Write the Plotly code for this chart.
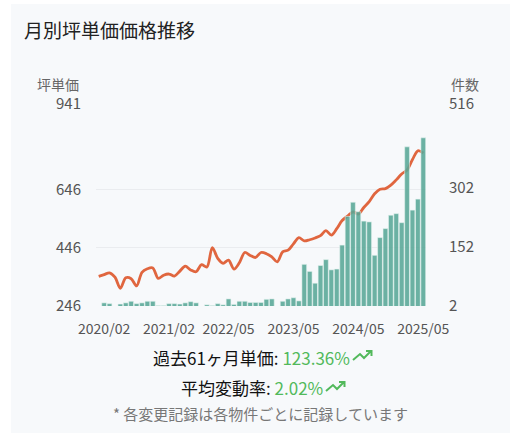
import plotly.graph_objects as go

# month categories (a few months in 2021 have no records)
months = (
    [f"2020/{m:02d}" for m in range(1, 13)]
    + ["2021/01", "2021/02", "2021/03", "2021/04", "2021/05", "2021/06", "2021/07",
       "2021/09", "2021/11", "2022/02", "2022/03", "2022/04", "2022/05"]
    + [f"2022/{m:02d}" for m in range(6, 13)]
    + [f"2023/{m:02d}" for m in range(1, 13)]
    + [f"2024/{m:02d}" for m in range(1, 13)]
    + [f"2025/{m:02d}" for m in range(1, 6)]
)
tick_months = ["2020/02", "2021/02", "2022/05", "2023/05", "2024/05", "2025/05"]

# 坪単価 (left axis)
unit_price = [
    348, 354, 360, 345, 307, 343, 340, 315, 362, 374,
    377, 341, 352, 356, 349, 366, 383, 370, 364, 388,
    380, 447, 410, 393, 404, 373, 395, 430, 420, 413,
    430, 426, 415, 398, 432, 438, 460, 481, 470, 474,
    480, 488, 505, 490, 512, 540, 555, 570, 562, 585,
    605, 632, 648, 650, 662, 680, 700, 714, 750, 780,
    772, 783,
]
# 件数 (right axis)
counts = [
    0, 10, 8, 0, 7, 10, 14, 8, 10, 14,
    14, 3, 3, 8, 8, 7, 10, 13, 10, 0,
    5, 3, 8, 5, 20, 6, 14, 14, 11, 11,
    11, 19, 20, 0, 14, 20, 23, 15, 108, 90,
    60, 105, 120, 94, 96, 157, 230, 266, 242, 218,
    216, 131, 176, 199, 233, 237, 214, 407, 246, 274,
    430, 269,
]
price_ticks = [246, 446, 646, 941]
count_ticks = [2, 152, 302, 516]

FONT = "Noto Sans CJK JP"
W, H = 515, 442
L, R, T, B = 96, 89, 104, 136
pw, ph = W - L - R, H - T - B


def px(x):
    return (x - L) / pw


def py(y):
    return (H - B - y) / ph


fig = go.Figure()

fig.add_trace(go.Scatter(
    x=months, y=unit_price, mode="lines", yaxis="y",
    line=dict(color="#e0663f", width=2.8, shape="spline", smoothing=0.9),
    hoverinfo="x+y", showlegend=False,
))
fig.add_trace(go.Bar(
    x=months, y=counts, yaxis="y2",
    marker=dict(color="rgba(88,166,150,0.88)",
                line=dict(color="rgba(230,245,240,0.7)", width=0.8)),
    showlegend=False,
))

# card background
shapes = [dict(type="rect", xref="paper", yref="paper", layer="below",
               x0=px(11), x1=px(510), y0=py(433), y1=py(4),
               fillcolor="#f7f9fb", line=dict(width=0))]

# trending-up icons
def trend_icon(x, y, color="#52b95b"):
    pts = [(x, y + 9), (x + 7, y + 3), (x + 11, y + 7), (x + 18, y)]
    path = "M " + " L ".join(f"{px(a)},{py(b)}" for a, b in pts)
    path += f" M {px(x + 13)},{py(y)} L {px(x + 18.5)},{py(y)} L {px(x + 18.5)},{py(y + 5)}"
    return dict(type="path", xref="paper", yref="paper", path=path,
                line=dict(color=color, width=2))

shapes.append(trend_icon(353, 351))
shapes.append(trend_icon(326, 382))

green = "#52b95b"
annotations = [
    dict(text="月別坪単価価格推移", x=px(22), y=py(30), xanchor="left", yanchor="middle",
         font=dict(size=19, color="#222222")),
    dict(text="坪単価", x=px(81), y=py(84), xanchor="right", yanchor="middle",
         font=dict(size=14, color="#666666")),
    dict(text="件数", x=px(449), y=py(84), xanchor="left", yanchor="middle",
         font=dict(size=14, color="#666666")),
    dict(text=f"過去61ヶ月単価: <span style='color:{green}'>123.36%</span>",
         x=px(352), y=py(357), xanchor="right", yanchor="middle",
         font=dict(size=17, color="#111111")),
    dict(text=f"平均変動率: <span style='color:{green}'>2.02%</span>",
         x=px(325), y=py(387), xanchor="right", yanchor="middle",
         font=dict(size=17, color="#111111")),
    dict(text="* 各変更記録は各物件ごとに記録しています", x=px(260.5), y=py(413),
         xanchor="center", yanchor="middle", font=dict(size=15, color="#777777")),
]
for a in annotations:
    a.update(xref="paper", yref="paper", showarrow=False)

fig.update_layout(
    width=W, height=H,
    margin=dict(l=L, r=R, t=T, b=B),
    paper_bgcolor="white", plot_bgcolor="rgba(0,0,0,0)",
    font=dict(family=FONT, color="#555555"),
    bargap=0.12,
    xaxis=dict(type="category", categoryorder="array", categoryarray=months,
               range=[-0.5, len(months) - 0.5],
               tickmode="array", tickvals=tick_months, ticktext=tick_months,
               showgrid=False, zeroline=False, showline=False, ticks="",
               tickfont=dict(size=14, color="#555555"), ticklabelstandoff=13),
    yaxis=dict(range=[price_ticks[0], price_ticks[-1]], tickvals=price_ticks,
               showgrid=True, gridcolor="#eaecef", gridwidth=1, zeroline=False,
               tickfont=dict(size=15, color="#555555"), ticklabelstandoff=14),
    yaxis2=dict(range=[count_ticks[0], count_ticks[-1]], tickvals=count_ticks,
                overlaying="y", side="right", showgrid=False, zeroline=False,
                tickfont=dict(size=15, color="#555555"), ticklabelstandoff=22),
    shapes=shapes,
    annotations=annotations,
)

# drop the page's default body margin so the figure sits at the top-left corner
fig.write_html("out.html", config={"displayModeBar": False},
               post_script="document.body.style.margin='0';")
